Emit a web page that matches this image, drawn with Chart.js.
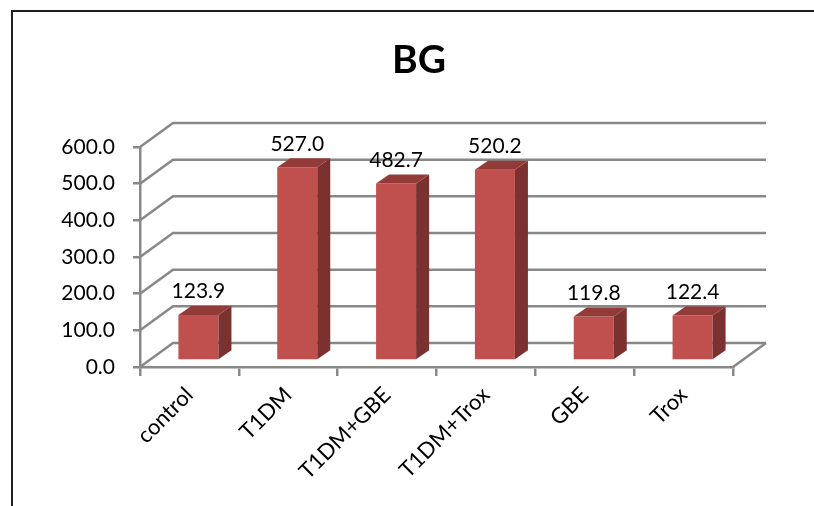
<!DOCTYPE html>
<html>
<head>
<meta charset="utf-8">
<script src="https://cdn.jsdelivr.net/npm/chart.js@4/dist/chart.umd.min.js"></script>
<style>
  html, body { margin: 0; padding: 0; background: #ffffff; }
  #wrap { width: 814px; height: 506px; position: relative; }
</style>
</head>
<body>
<div id="wrap"><canvas id="c" width="814" height="506"></canvas></div>
<script>
// Blood glucose per group
const chartTitle = 'BG';
const categories = ['control', 'T1DM', 'T1DM+GBE', 'T1DM+Trox', 'GBE', 'Trox'];
const bgValues = [123.9, 527.0, 482.7, 520.2, 119.8, 122.4];
const yMin = 0;
const yMax = 600;
const yStep = 100;

const FONT = "Lato, 'Open Sans', sans-serif";
const GRID = '#888888';

// Pseudo-3D geometry: wall depth and the bar slab inside it
const WALL = { dx: 33, dy: -24 };
const BAR_SHIFT = { dx: 9, dy: -6.5 };
const BAR_DEPTH = { dx: 13, dy: -9 };

// outer frame and the heading
const frame = {
  id: 'frame',
  beforeDraw(chart) {
    const ctx = chart.ctx;
    ctx.save();
    ctx.strokeStyle = '#1e1e1e';
    ctx.lineWidth = 2;
    ctx.beginPath();
    ctx.moveTo(12, 506);
    ctx.lineTo(12, 11);
    ctx.lineTo(814, 11);
    ctx.stroke();
    ctx.fillStyle = '#000000';
    ctx.font = 'bold 39px ' + FONT;
    ctx.textAlign = 'center';
    ctx.textBaseline = 'alphabetic';
    ctx.fillText(chartTitle, 419, 73);
    ctx.restore();
  }
};

const threeD = {
  id: 'threeD',
  beforeDatasetsDraw(chart) {
    const { ctx, chartArea: a, scales: { y } } = chart;
    ctx.save();
    ctx.strokeStyle = GRID;
    ctx.lineWidth = 2.5;
    ctx.lineCap = 'butt';
    // back wall gridlines and left wall diagonals
    y.ticks.forEach(t => {
      const py = y.getPixelForValue(t.value);
      ctx.beginPath();
      ctx.moveTo(a.left, py);
      ctx.lineTo(a.left + WALL.dx, py + WALL.dy);
      ctx.lineTo(a.right + WALL.dx, py + WALL.dy);
      ctx.stroke();
    });
    // right edge of the floor
    ctx.beginPath();
    ctx.moveTo(a.right, a.bottom);
    ctx.lineTo(a.right + WALL.dx, a.bottom + WALL.dy);
    ctx.stroke();
    ctx.restore();
    // bars sit a little behind the front plane
    ctx.save();
    ctx.translate(BAR_SHIFT.dx, BAR_SHIFT.dy);
  },
  afterDatasetsDraw(chart) {
    const ctx = chart.ctx;
    const meta = chart.getDatasetMeta(0);
    const data = chart.data.datasets[0].data;
    meta.data.forEach((bar, i) => {
      const p = bar.getProps(['x', 'y', 'base', 'width'], true);
      const l = p.x - p.width / 2;
      const r = p.x + p.width / 2;
      // side face
      ctx.fillStyle = '#7B3130';
      ctx.beginPath();
      ctx.moveTo(r, p.y);
      ctx.lineTo(r + BAR_DEPTH.dx, p.y + BAR_DEPTH.dy);
      ctx.lineTo(r + BAR_DEPTH.dx, p.base + BAR_DEPTH.dy);
      ctx.lineTo(r, p.base);
      ctx.closePath();
      ctx.fill();
      // top face
      ctx.fillStyle = '#933B39';
      ctx.beginPath();
      ctx.moveTo(l, p.y);
      ctx.lineTo(l + BAR_DEPTH.dx, p.y + BAR_DEPTH.dy);
      ctx.lineTo(r + BAR_DEPTH.dx, p.y + BAR_DEPTH.dy);
      ctx.lineTo(r, p.y);
      ctx.closePath();
      ctx.fill();
      // value label
      ctx.fillStyle = '#000000';
      ctx.font = '21px ' + FONT;
      ctx.textAlign = 'center';
      ctx.textBaseline = 'bottom';
      ctx.fillText(Number(data[i]).toFixed(1), p.x, p.y - 13);
    });
    ctx.restore();
  }
};

new Chart(document.getElementById('c'), {
  type: 'bar',
  data: {
    labels: categories,
    datasets: [{
      label: chartTitle,
      data: bgValues,
      backgroundColor: '#C0504D',
      borderWidth: 0,
      categoryPercentage: 1.0,
      barPercentage: 0.405
    }]
  },
  plugins: [frame, threeD],
  options: {
    responsive: false,
    animation: false,
    devicePixelRatio: 1,
    layout: { padding: { left: 24, right: 81, top: 147, bottom: 0 } },
    plugins: {
      legend: { display: false },
      tooltip: { enabled: false },
      title: { display: false }
    },
    scales: {
      x: {
        afterFit(s) { s.height = 139; },
        grid: { offset: true, drawOnChartArea: false, drawTicks: true, tickLength: 9, color: GRID, lineWidth: 2.5 },
        border: { display: true, color: GRID, width: 2.5 },
        ticks: {
          color: '#000000',
          font: { family: FONT, size: 22 },
          minRotation: 45,
          maxRotation: 45,
          padding: 6
        }
      },
      y: {
        min: yMin,
        max: yMax,
        afterFit(s) { s.width = 116; },
        grid: { drawOnChartArea: false, drawTicks: true, tickLength: 7, color: GRID, lineWidth: 2.5 },
        border: { display: true, color: GRID, width: 2.5 },
        ticks: {
          stepSize: yStep,
          color: '#000000',
          font: { family: FONT, size: 21 },
          padding: 18,
          callback: v => Number(v).toFixed(1)
        }
      }
    }
  }
});
</script>
</body>
</html>
